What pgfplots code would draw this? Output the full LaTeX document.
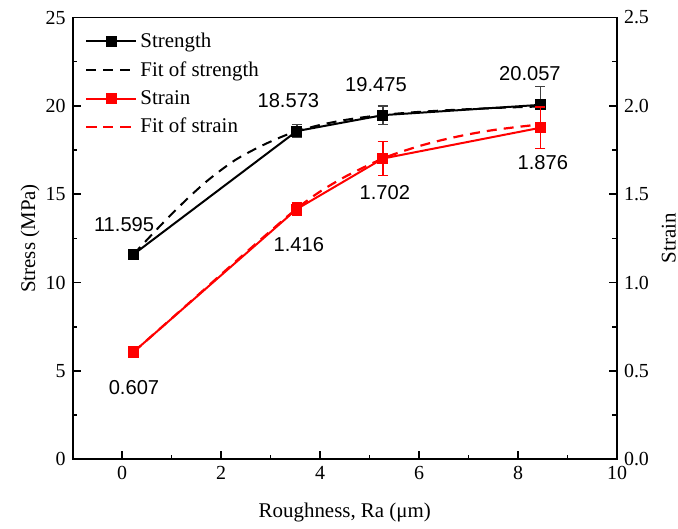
\documentclass[border=0pt]{standalone}
\usepackage{pgfplots}
\pgfplotsset{compat=1.18}
\usepackage{fontspec}
\setmainfont{Liberation Serif}
\newfontfamily\arialfont{Liberation Sans}

\definecolor{strred}{RGB}{255,0,0}

\tikzset{valuelabel/.style={font=\arialfont\fontsize{10.1}{12}\selectfont, inner sep=0pt}}

\pgfplotsset{
  common/.style={
    width=272.2bp, height=220.9bp, scale only axis,
    xmin=-1, xmax=10,
    tick align=inside,
    major tick length=4bp, minor tick length=2.4bp,
    every tick/.style={black, line width=0.75bp},
    axis line style={line width=0.9bp},
    tick label style={font=\fontsize{10}{12}\selectfont},
    label style={font=\fontsize{10.5}{12.5}\selectfont},
    /pgf/number format/assume math mode=true,
  },
  squareline/.style={line width=1bp, mark=square*, mark size=2.25bp,
    mark options={solid}},
  legend line/.style={legend image code/.code={
    \draw[mark repeat=2, mark phase=2, ##1]
      plot coordinates {(0bp,0bp) (12.5bp,0bp) (25bp,0bp)};}},
}

\begin{document}
\begin{tikzpicture}
% Stress on the left axis
\begin{axis}[common, name=main,
  ymin=0, ymax=25,
  xtick={0,2,...,10}, minor x tick num=1,
  ytick={0,5,...,25}, minor y tick num=1,
  xtick pos=bottom, ytick pos=left,
  xlabel={Roughness, Ra (μm)},
  ylabel={Stress (MPa)},
  xlabel style={at={(axis description cs:0.5,0)}, anchor=center, yshift=-26.35bp},
  ylabel style={at={(axis description cs:0,0.5)}, anchor=center, yshift=21.3bp},
]
% fitted strength curve
\addplot[black, line width=1bp, dash pattern=on 5bp off 3.5bp, smooth] coordinates {
  (0.23,11.60) (0.5,12.41) (0.8,13.30) (1.1,14.15) (1.4,14.96) (1.7,15.71)
  (2.0,16.37) (2.3,16.96) (2.6,17.43) (2.9,17.85) (3.2,18.22) (3.5,18.54)
  (4.0,18.92) (4.5,19.20) (5.0,19.40) (5.5,19.55) (6.0,19.66) (6.5,19.745)
  (7.0,19.815) (7.5,19.875) (8.0,19.925) (8.45,19.965)};
% measured strength
\addplot[black, squareline,
  error bars/.cd, y dir=both, y explicit,
  error bar style={black!75, line width=0.75bp},
  error mark options={rotate=90, mark size=2.6bp, black!75, line width=0.75bp}]
  coordinates {
  (0.23,11.595) +- (0,0.05)
  (3.53,18.573) +- (0,0.37)
  (5.27,19.475) +- (0,0.52)
  (8.45,20.057) +- (0,1.05)};
\node[valuelabel] at (axis cs:0.04,13.28) {11.595};
\node[valuelabel] at (axis cs:3.36,20.29) {18.573};
\node[valuelabel] at (axis cs:5.13,21.19) {19.475};
\node[valuelabel] at (axis cs:8.24,21.82) {20.057};
\end{axis}

% Strain on the right axis
\begin{axis}[common,
  ymin=0, ymax=2.5,
  axis x line=none, axis y line*=right,
  ytick={0,0.5,...,2.5}, minor y tick num=1,
  yticklabel style={/pgf/number format/.cd, fixed, fixed zerofill, precision=1},
  ylabel={Strain},
  ylabel style={at={(axis description cs:1,0.5)}, anchor=base, yshift=-29.3bp},
  legend cell align=left,
  legend style={at={(axis description cs:0.022,0.974)}, anchor=north west,
    draw=none, fill=none, inner sep=0pt, row sep=2.4bp,
    font=\fontsize{10.5}{12.5}\selectfont,
    nodes={inner sep=1.6bp}},
]
\addlegendimage{black, squareline, legend line}
\addlegendentry{Strength}
\addlegendimage{black, line width=1bp, dash pattern=on 5bp off 3.5bp, legend line}
\addlegendentry{Fit of strength}
% measured strain
\addplot[strred, squareline, legend line,
  error bars/.cd, y dir=both, y explicit,
  error bar style={strred, line width=0.75bp},
  error mark options={rotate=90, mark size=2.6bp, strred, line width=0.75bp}]
  coordinates {
  (0.23,0.607) +- (0,0.03)
  (3.53,1.416) +- (0,0.033)
  (5.27,1.702) +- (0,0.096)
  (8.45,1.876) +- (0,0.117)};
\addlegendentry{Strain}
% fitted strain curve
\addplot[strred, line width=1.1bp, dash pattern=on 5bp off 3.5bp, smooth, legend line]
  coordinates {
  (0.23,0.607) (1.0,0.797) (1.5,0.921) (2.0,1.046) (2.5,1.170) (3.0,1.292)
  (3.53,1.419) (4.0,1.515) (4.5,1.598) (5.0,1.668) (5.27,1.702) (5.5,1.727)
  (6.0,1.772) (6.5,1.809) (7.0,1.839) (7.5,1.863) (8.0,1.881) (8.45,1.895)};
\addlegendentry{Fit of strain}
\node[valuelabel] at (axis cs:0.24,0.404) {0.607};
\node[valuelabel] at (axis cs:3.57,1.213) {1.416};
\node[valuelabel] at (axis cs:5.31,1.507) {1.702};
\node[valuelabel] at (axis cs:8.50,1.678) {1.876};
\end{axis}

\pgfresetboundingbox
\path[use as bounding box]
  ([shift={(-36.3bp,-34.85bp)}]main.south west)
  rectangle ([shift={(30.5bp,8.75bp)}]main.north east);
\end{tikzpicture}
\end{document}
